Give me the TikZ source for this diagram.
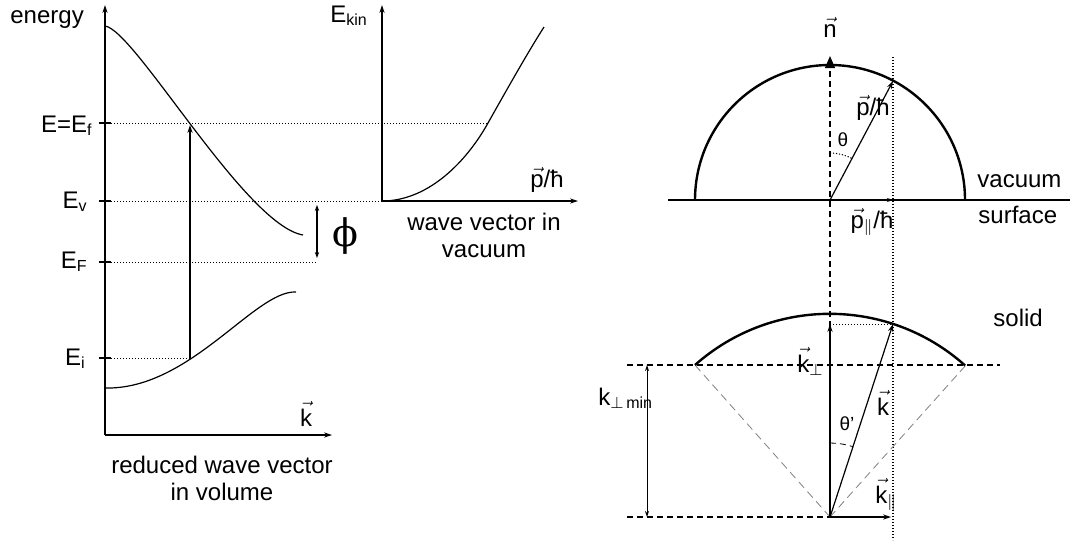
\documentclass[tikz,border=0pt]{standalone}
\usepackage{amsmath}
\usepackage{fontspec}
\setmainfont{Liberation Sans}
\newfontfamily\phifont{DejaVu Serif}
\usetikzlibrary{arrows.meta, positioning}

\newcommand{\vecl}[1]{$\vec{\text{#1}}$}

\begin{document}
\begin{tikzpicture}[
    x=0.5pt, y=-0.5pt,
    font=\fontsize{12}{13.5}\selectfont,
    >={Stealth[length=4pt, width=2.6pt]},
    axis/.style={->, line width=0.6pt},
    guide/.style={line width=0.5pt, dash pattern=on 0.6pt off 0.9pt},
    band/.style={line width=0.6pt},
    sphere/.style={line width=1.2pt},
    normal/.style={line width=0.6pt, dash pattern=on 3pt off 2pt},
    cone/.style={line width=0.4pt, gray, dash pattern=on 4pt off 2.5pt},
    vecarrow/.style={->, line width=0.6pt},
    lbl/.style={inner sep=0pt},
    greek/.style={inner sep=0pt, font=\fontsize{9.5}{11}\selectfont}
]
\useasboundingbox (0,0) rectangle (1074,543);

% energy in the volume
\coordinate (origin) at (105,435);
\coordinate (etop) at (105,5);
\coordinate (kend) at (332,435);
\draw[axis] (origin) -- (etop);
\draw[axis] (origin) -- (kend);
\foreach \y in {123,201,262,358}
    \draw[line width=0.6pt] (99,\y) -- (111,\y);

\draw[band] (105,26) .. controls (135,30) and (245,225) .. (303,235);
\draw[band] (105,388) .. controls (190,390) and (255,290) .. (296,292);

\coordinate (Ei) at (190,358);
\coordinate (Ef) at (190,125);
\draw[vecarrow] (Ei) -- (Ef);

% kinetic energy in vacuum
\coordinate (vorigin) at (382,201);
\coordinate (vtop) at (382,5);
\coordinate (vend) at (578,201);
\coordinate (vEf) at (488,123);
\draw[axis] (vorigin) -- (vtop);
\draw[axis] (vorigin) -- (vend);
\draw[band] (vorigin) .. controls (430,201) and (468,159) .. (vEf)
    .. controls (506,91) and (528,52) .. (544,27);

\draw[guide] (105,123) -- (vEf);
\draw[guide] (105,201) -- (vorigin);
\draw[guide] (105,262) -- (317,262);
\draw[guide] (105,358) -- (Ei);

\coordinate (phitop) at (317,205);
\coordinate (phibot) at (317,258);
\draw[<->, line width=0.6pt, >={Stealth[length=3pt, width=2.2pt]}] (phitop) -- (phibot);
\node[lbl, font=\phifont\fontsize{19}{22}\selectfont] (phi) at (345,236) {ϕ};

\node[lbl, anchor=base west] (energy) at (10,23) {energy};
\node[lbl, anchor=base east] (lEf) at (93,132) {E=E\textsubscript{f}};
\node[lbl, anchor=base east] (lEv) at (88,208) {E\textsubscript{v}};
\node[lbl, anchor=base east] (lEF) at (88,268) {E\textsubscript{F}};
\node[lbl, anchor=base east] (lEi) at (86,365) {E\textsubscript{i}};
\node[lbl, anchor=base] (lk) at (306,426) {\vecl{k}};
\node[lbl, align=center, anchor=north] (lvolume) at (222,456) {reduced wave vector\\in volume};
\node[lbl, anchor=base west] (lEkin) at (330,22) {E\textsubscript{kin}};
\node[lbl, anchor=base] (lpv) at (547,187) {\vecl{p}/ħ};
\node[lbl, align=center, anchor=north] (lvacuum) at (484,213) {wave vector in\\vacuum};

% sphere in vacuum
\coordinate (O) at (830,200);
\coordinate (P) at (893,81);
\coordinate (Ppar) at (893,200);
\coordinate (ntip) at (830,56);
\coordinate (O2) at (830,517);
\draw[line width=0.6pt] (668,200) -- (1070,200);
\draw[sphere] (695,200) arc[start angle=180, end angle=360, radius=135];
\draw[normal, -{Triangle[length=6pt, width=5pt]}] (O2) -- (ntip);
\draw[guide, line width=0.7pt] (893,57) -- (893,540);
\draw[vecarrow] (O) -- (P);
\draw[vecarrow, >={Stealth[length=3pt, width=2pt]}] (O) -- (Ppar);
\draw[guide] (830,153) arc[start angle=270, end angle=297.9, radius=47];

\node[lbl, anchor=base] (ln) at (830,37) {\vecl{n}};
\node[lbl, anchor=base] (lp) at (873,115) {\vecl{p}/ħ};
\node[greek] (ltheta) at (843,140) {θ};
\node[lbl, anchor=base] (lppar) at (872,228) {\vecl{p}\textsubscript{$\parallel$}/ħ};
\node[lbl, anchor=base west] (lvac) at (977,187) {vacuum};
\node[lbl, anchor=base west] (lsurf) at (978,223) {surface};
\node[lbl, anchor=base west] (lsolid) at (993,326) {solid};

% sphere in the solid
\coordinate (A) at (695,365);
\coordinate (B) at (966,365);
\coordinate (K) at (893,324);
\coordinate (Kperp) at (830,324);
\coordinate (Kpar) at (891,517);
\draw[normal] (627,365) -- (1000,365);
\draw[normal] (627,517) -- (O2);
\draw[cone] (O2) -- (A);
\draw[cone] (O2) -- (B);
\draw[sphere] (A) arc[start angle=228.4, end angle=311.8, radius=203];
\draw[guide] (Kperp) -- (K);
\draw[vecarrow] (O2) -- (Kperp);
\draw[vecarrow] (O2) -- (K);
\draw[vecarrow, line width=1.1pt] (O2) -- (Kpar);
\draw[normal, line width=0.4pt] (830,443) arc[start angle=270, end angle=288.1, radius=74];
\draw[<->, line width=0.5pt, >={Stealth[length=3pt, width=2pt]}] (647,365) -- (647,517);

\node[lbl, anchor=base west] (lkperp) at (797,372) {\vecl{k}\textsubscript{$\perp$}};
\node[lbl, anchor=base] (lkvec) at (883,415) {\vecl{k}};
\node[greek] (lthetap) at (847,424) {θ’};
\node[lbl, anchor=base] (lkpar) at (886,503) {\vecl{k}\textsubscript{$\parallel$}};
\node[lbl, anchor=base west] (lkmin) at (598,405) {k\textsubscript{$\perp$\,min}};
\end{tikzpicture}
\end{document}
